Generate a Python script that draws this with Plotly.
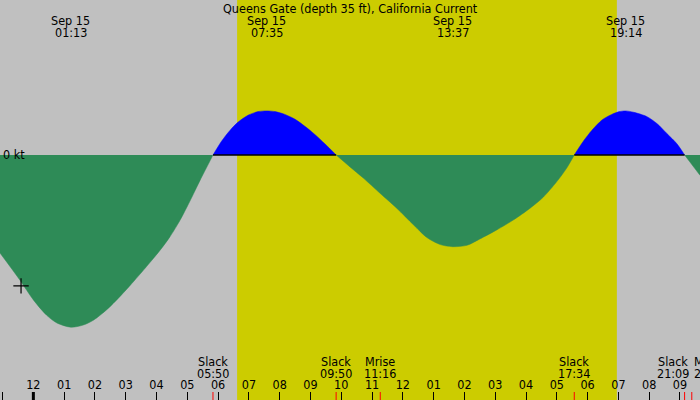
import plotly.graph_objects as go

# current speed in knots (negative = ebb, positive = flood)
times = [
    "2024-09-14 22:55", "2024-09-14 23:34", "2024-09-15 00:00", "2024-09-15 00:26",
    "2024-09-15 00:46", "2024-09-15 01:13", "2024-09-15 01:37", "2024-09-15 01:57",
    "2024-09-15 02:23", "2024-09-15 02:49", "2024-09-15 03:15", "2024-09-15 03:41",
    "2024-09-15 04:07", "2024-09-15 04:26", "2024-09-15 04:46", "2024-09-15 05:05",
    "2024-09-15 05:25", "2024-09-15 05:41", "2024-09-15 05:50",
    # flood
    "2024-09-15 06:07", "2024-09-15 06:23", "2024-09-15 06:39", "2024-09-15 06:59",
    "2024-09-15 07:18", "2024-09-15 07:35", "2024-09-15 07:51", "2024-09-15 08:10",
    "2024-09-15 08:30", "2024-09-15 08:49", "2024-09-15 09:09", "2024-09-15 09:28",
    "2024-09-15 09:50",
    # ebb
    "2024-09-15 10:17", "2024-09-15 10:43", "2024-09-15 11:16", "2024-09-15 11:48",
    "2024-09-15 12:21", "2024-09-15 12:47", "2024-09-15 13:13", "2024-09-15 13:37",
    "2024-09-15 14:05", "2024-09-15 14:30", "2024-09-15 15:03", "2024-09-15 15:35",
    "2024-09-15 16:08", "2024-09-15 16:34", "2024-09-15 17:00", "2024-09-15 17:19",
    "2024-09-15 17:34",
    # flood
    "2024-09-15 17:52", "2024-09-15 18:08", "2024-09-15 18:28", "2024-09-15 18:47",
    "2024-09-15 19:02", "2024-09-15 19:14", "2024-09-15 19:30", "2024-09-15 19:55",
    "2024-09-15 20:15", "2024-09-15 20:34", "2024-09-15 20:54", "2024-09-15 21:09",
    # ebb
    "2024-09-15 21:39",
]
speeds = [
    -1.40, -1.79, -2.07, -2.29,
    -2.40, -2.46, -2.43, -2.36,
    -2.21, -2.02, -1.81, -1.59,
    -1.36, -1.17, -0.93, -0.66,
    -0.36, -0.13, 0.0,
    0.20, 0.35, 0.47, 0.57,
    0.62, 0.63, 0.62, 0.58,
    0.51, 0.41, 0.29, 0.16,
    0.0,
    -0.17, -0.33, -0.55, -0.76,
    -1.00, -1.18, -1.28, -1.31,
    -1.29, -1.20, -1.07, -0.93,
    -0.76, -0.60, -0.38, -0.19,
    0.0,
    0.20, 0.35, 0.50, 0.58,
    0.62, 0.63, 0.61, 0.55,
    0.45, 0.31, 0.16, 0.0,
    -0.29,
]

# max current labels along the top
max_times = ["2024-09-15 01:13", "2024-09-15 07:35", "2024-09-15 13:37", "2024-09-15 19:14"]
max_dates = ["Sep 15", "Sep 15", "Sep 15", "Sep 15"]
max_clock = ["01:13", "07:35", "13:37", "19:14"]

# events along the bottom
event_times = ["2024-09-15 05:50", "2024-09-15 09:50", "2024-09-15 11:16",
               "2024-09-15 17:34", "2024-09-15 21:09", "2024-09-15 21:23"]
event_names = ["Slack", "Slack", "Mrise", "Slack", "Slack", "Mset"]
event_clock = ["05:50", "09:50", "11:16", "17:34", "21:09", "21:23"]

sunrise = "2024-09-15 06:37"
sunset = "2024-09-15 18:57"
midnight = "2024-09-15 00:00"
marker_time = ["2024-09-14 23:36"]
marker_speed = [-1.87]

x_range = ["2024-09-14 22:55", "2024-09-15 21:39"]
y_range = [-3.5, 2.214]

font = "DejaVu Sans Condensed, Liberation Sans, Arial, sans-serif"
fsize = 12.5

fig = go.Figure()

# split the curve into ebb / flood pieces at the slack points
segments = []
cur_x, cur_y = [], []
for t, v in zip(times, speeds):
    cur_x.append(t)
    cur_y.append(v)
    if v == 0 and len(cur_x) > 1:
        segments.append((cur_x, cur_y))
        cur_x, cur_y = [t], [v]
if len(cur_x) > 1:
    segments.append((cur_x, cur_y))

zero_x = []
for sx, sy in segments:
    flood = max(sy) > 0
    color = "#0000ff" if flood else "#2e8b57"
    fig.add_trace(go.Scatter(
        x=sx, y=sy, mode="lines", fill="tozeroy", fillcolor=color,
        line=dict(color=color, width=0.5, shape="spline", smoothing=0.8),
        hoverinfo="skip", showlegend=False,
    ))
    if flood:
        zero_x += [sx[0], sx[-1], None]

# black zero line under the flood parts
fig.add_trace(go.Scatter(
    x=zero_x, y=[0 if t is not None else None for t in zero_x], mode="lines",
    line=dict(color="black", width=1.5), hoverinfo="skip", showlegend=False,
))

fig.add_trace(go.Scatter(
    x=marker_time, y=marker_speed, mode="markers",
    marker=dict(symbol="cross-thin", size=11, line=dict(color="black", width=1.2)),
    hoverinfo="skip", showlegend=False,
))

# daylight
fig.add_vrect(x0=sunrise, x1=sunset, fillcolor="#cccc00", opacity=1,
              line_width=0, layer="below")

# midnight tick
fig.add_shape(type="line", xref="x", yref="paper", x0=midnight, x1=midnight,
              ysizemode="pixel", yanchor=0, y0=0, y1=8,
              line=dict(color="black", width=3))

# event ticks
for t in event_times:
    fig.add_shape(type="line", xref="x", yref="paper", x0=t, x1=t,
                  ysizemode="pixel", yanchor=0, y0=0, y1=8,
                  line=dict(color="red", width=1))

annots = []
annots.append(dict(text="Queens Gate (depth 35 ft), California Current",
                   xref="paper", yref="paper", x=0.5, y=1, yshift=-8,
                   showarrow=False, yanchor="middle"))
for t, d, c in zip(max_times, max_dates, max_clock):
    annots.append(dict(text=d, x=t, yref="paper", y=1, yshift=-20,
                       showarrow=False, yanchor="middle"))
    annots.append(dict(text=c, x=t, yref="paper", y=1, yshift=-32,
                       showarrow=False, yanchor="middle"))

label_style = {"Slack 21:09": dict(xshift=-12), "Mset 21:23": dict(xanchor="left", xshift=0)}
for t, n, c in zip(event_times, event_names, event_clock):
    extra = label_style.get(n + " " + c, {})
    annots.append(dict(text=n, x=t, yref="paper", y=0, yshift=39,
                       showarrow=False, yanchor="middle", **extra))
    annots.append(dict(text=c, x=t, yref="paper", y=0, yshift=27,
                       showarrow=False, yanchor="middle", **extra))

annots.append(dict(text="0 kt", xref="paper", x=0, xshift=1, y=0,
                   xanchor="left", yanchor="middle", showarrow=False))

fig.update_layout(
    width=700, height=400,
    margin=dict(l=0, r=0, t=0, b=0),
    paper_bgcolor="#c0c0c0", plot_bgcolor="#c0c0c0",
    font=dict(family=font, size=fsize, color="black"),
    annotations=annots,
    showlegend=False,
)
fig.update_xaxes(
    type="date", range=x_range, dtick=3600000, tickformat="%I",
    ticks="inside", ticklen=8, tickcolor="black", tickwidth=1,
    ticklabelposition="inside", showgrid=False, zeroline=False,
    showline=False, tickfont=dict(size=fsize, color="black"),
)
fig.update_yaxes(range=y_range, showgrid=False, zeroline=False,
                 showticklabels=False, ticks="")

fig.write_html("out.html", config={"displayModeBar": False},
               post_script="document.body.style.margin='0';")
